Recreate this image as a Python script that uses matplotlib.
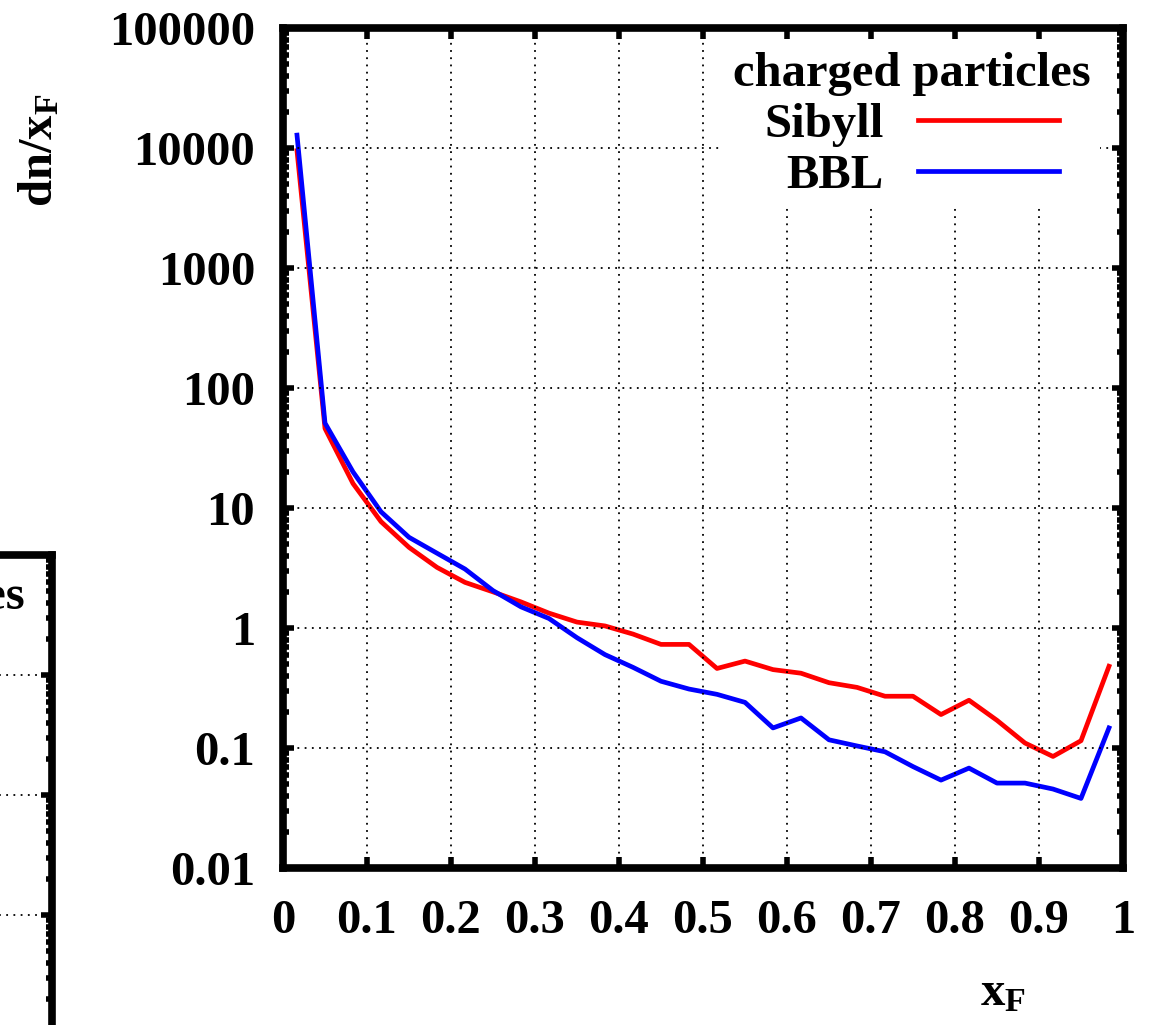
import numpy as np
import matplotlib.pyplot as plt
from matplotlib.ticker import FixedLocator, LogLocator, NullFormatter

plt.rcParams["font.family"] = ["Liberation Serif", "DejaVu Serif"]
plt.rcParams["font.weight"] = "bold"
plt.rcParams["mathtext.fontset"] = "custom"
plt.rcParams["mathtext.rm"] = "Liberation Serif:bold"
plt.rcParams["mathtext.bf"] = "Liberation Serif:bold"

# 30 bins in x_F, values at the bin centres
n_bins = 30
xf = (np.arange(n_bins) + 0.5) / n_bins

sibyll = [9500, 46, 16, 7.7, 4.7, 3.2, 2.4, 2.0, 1.65, 1.33,
          1.12, 1.04, 0.89, 0.73, 0.73, 0.46, 0.53, 0.45, 0.42, 0.35,
          0.32, 0.27, 0.27, 0.19, 0.25, 0.17, 0.11, 0.085, 0.115, 0.48]
bbl = [12800, 51, 20, 9.3, 5.7, 4.2, 3.1, 2.05, 1.5, 1.2,
       0.83, 0.6, 0.47, 0.36, 0.31, 0.28, 0.24, 0.147, 0.178, 0.117,
       0.104, 0.093, 0.07, 0.054, 0.068, 0.051, 0.051, 0.0455, 0.038, 0.147]

x_ticks = [0, 0.1, 0.2, 0.3, 0.4, 0.5, 0.6, 0.7, 0.8, 0.9, 1]
x_labels = ["0", "0.1", "0.2", "0.3", "0.4", "0.5", "0.6", "0.7", "0.8", "0.9", "1"]
y_ticks = [0.01, 0.1, 1, 10, 100, 1000, 10000, 100000]
y_labels = ["0.01", "0.1", "1", "10", "100", "1000", "10000", "100000"]

W, H = 1149, 1025
FS = 35


def style_axes(ax):
    ax.set_xlim(0, 1)
    ax.set_yscale("log")
    ax.set_ylim(0.01, 100000)
    ax.xaxis.set_major_locator(FixedLocator(x_ticks))
    ax.set_xticklabels(x_labels)
    ax.yaxis.set_major_locator(FixedLocator(y_ticks))
    ax.set_yticklabels(y_labels)
    ax.yaxis.set_minor_locator(LogLocator(base=10, subs=np.arange(2, 10), numticks=20))
    ax.yaxis.set_minor_formatter(NullFormatter())
    for s in ax.spines.values():
        s.set_linewidth(5.5)
    ax.tick_params(which="both", direction="in", top=True, right=True,
                   labelsize=FS, width=4, pad=20)
    ax.tick_params(which="major", length=8)
    ax.tick_params(which="minor", length=4)
    ax.tick_params(axis="x", pad=22)
    ax.grid(True, which="major", color="black", linestyle=(0, (1, 3)), linewidth=1.3)
    ax.set_axisbelow(False)


fig = plt.figure(figsize=(W / 100, H / 100), dpi=100)

# main panel
ax = fig.add_axes([283 / W, 1 - 868 / H, 840 / W, 840 / H])
style_axes(ax)
ax.plot(xf, sibyll, color="#ff0000", linewidth=3.4, label="Sibyll")
ax.plot(xf, bbl, color="#0000ff", linewidth=3.4, label="BBL")

leg = ax.legend(loc="upper right", bbox_to_anchor=(0.973, 0.983), borderaxespad=0,
                title="charged particles", markerfirst=False, fontsize=FS,
                title_fontproperties={"size": FS, "weight": "bold"},
                handlelength=2.9, handletextpad=0.7, labelspacing=0.14,
                borderpad=0.2, frameon=True, fancybox=False, framealpha=1,
                facecolor="white", edgecolor="none")

fig.text(40 / W, 1 - 150 / H, r"$\mathrm{dn/x_F}$", rotation=90,
         ha="center", va="center", fontsize=FS)
fig.text(1003 / W, 1 - 993 / H, r"$\mathrm{x_F}$", ha="center", va="center", fontsize=FS)

# neighbouring panel, only its right edge is visible
ax2 = fig.add_axes([(52 - 840) / W, 1 - (555 + 840) / H, 840 / W, 840 / H])
style_axes(ax2)
ax2.tick_params(labelleft=False, labelbottom=False)
ax2.text(0.968, 0.95, "charged particles", transform=ax2.transAxes,
         ha="right", va="center", fontsize=FS)

fig.savefig("out.png", dpi=100)
